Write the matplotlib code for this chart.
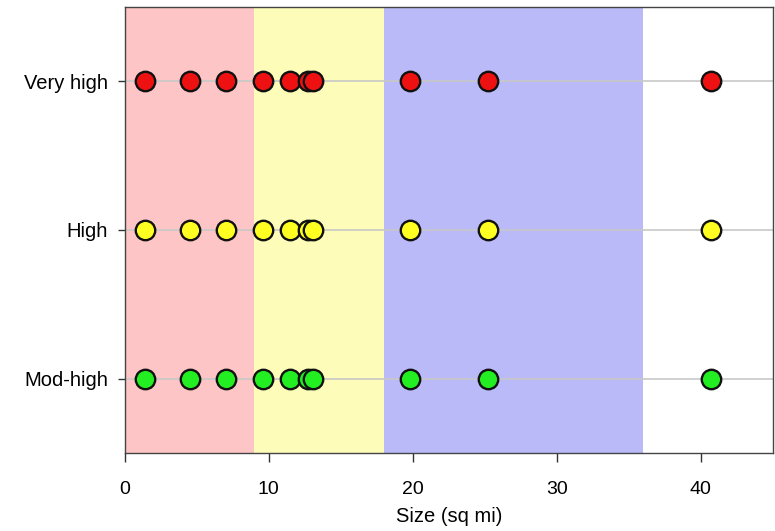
import matplotlib
matplotlib.use("Agg")
import matplotlib.pyplot as plt

categories = ["Mod-high", "High", "Very high"]
cat_colors = ["#22ee22", "#ffff22", "#ee1111"]
sizes = [1.4, 4.5, 7.0, 9.6, 11.5, 12.7, 13.1, 19.8, 25.2, 40.7]
band_edges = [0, 9, 18, 36]
band_colors = ["#fdc5c5", "#fdfdb9", "#babaf8"]
xticks = [0, 10, 20, 30, 40]

plt.rcParams['font.family'] = ['Liberation Sans', 'DejaVu Sans']
fig = plt.figure(figsize=(7.75, 5.31), dpi=100)
ax = fig.add_axes([0.161, 0.147, 0.836, 0.84])

for i in range(len(band_colors)):
    ax.axvspan(band_edges[i], band_edges[i + 1], color=band_colors[i], lw=0, zorder=0)

for yi, (cat, col) in enumerate(zip(categories, cat_colors), start=1):
    ax.axhline(yi, color="#c8c8c8", lw=1.2, zorder=1)
    ax.plot(sizes, [yi] * len(sizes), 'o', ms=14, mfc=col, mec="#111111", mew=1.7, zorder=3, ls='none')

ax.set_xlim(0, 45)
ax.set_ylim(0.5, 3.5)
ax.set_yticks([1, 2, 3])
ax.set_yticklabels(categories, fontsize=14.5)
ax.set_xticks(xticks)
ax.set_xticklabels([str(t) for t in xticks], fontsize=14)
ax.tick_params(axis='x', direction='out', length=6.5, color='#333333', width=1, pad=14)
ax.tick_params(axis='y', direction='out', length=5, color='#333333', width=1, pad=7)
ax.set_xlabel("Size (sq mi)", fontsize=14.5, labelpad=6)
for s in ax.spines.values():
    s.set_color('#444444')
    s.set_linewidth(1)

fig.savefig("out.png", dpi=100)
